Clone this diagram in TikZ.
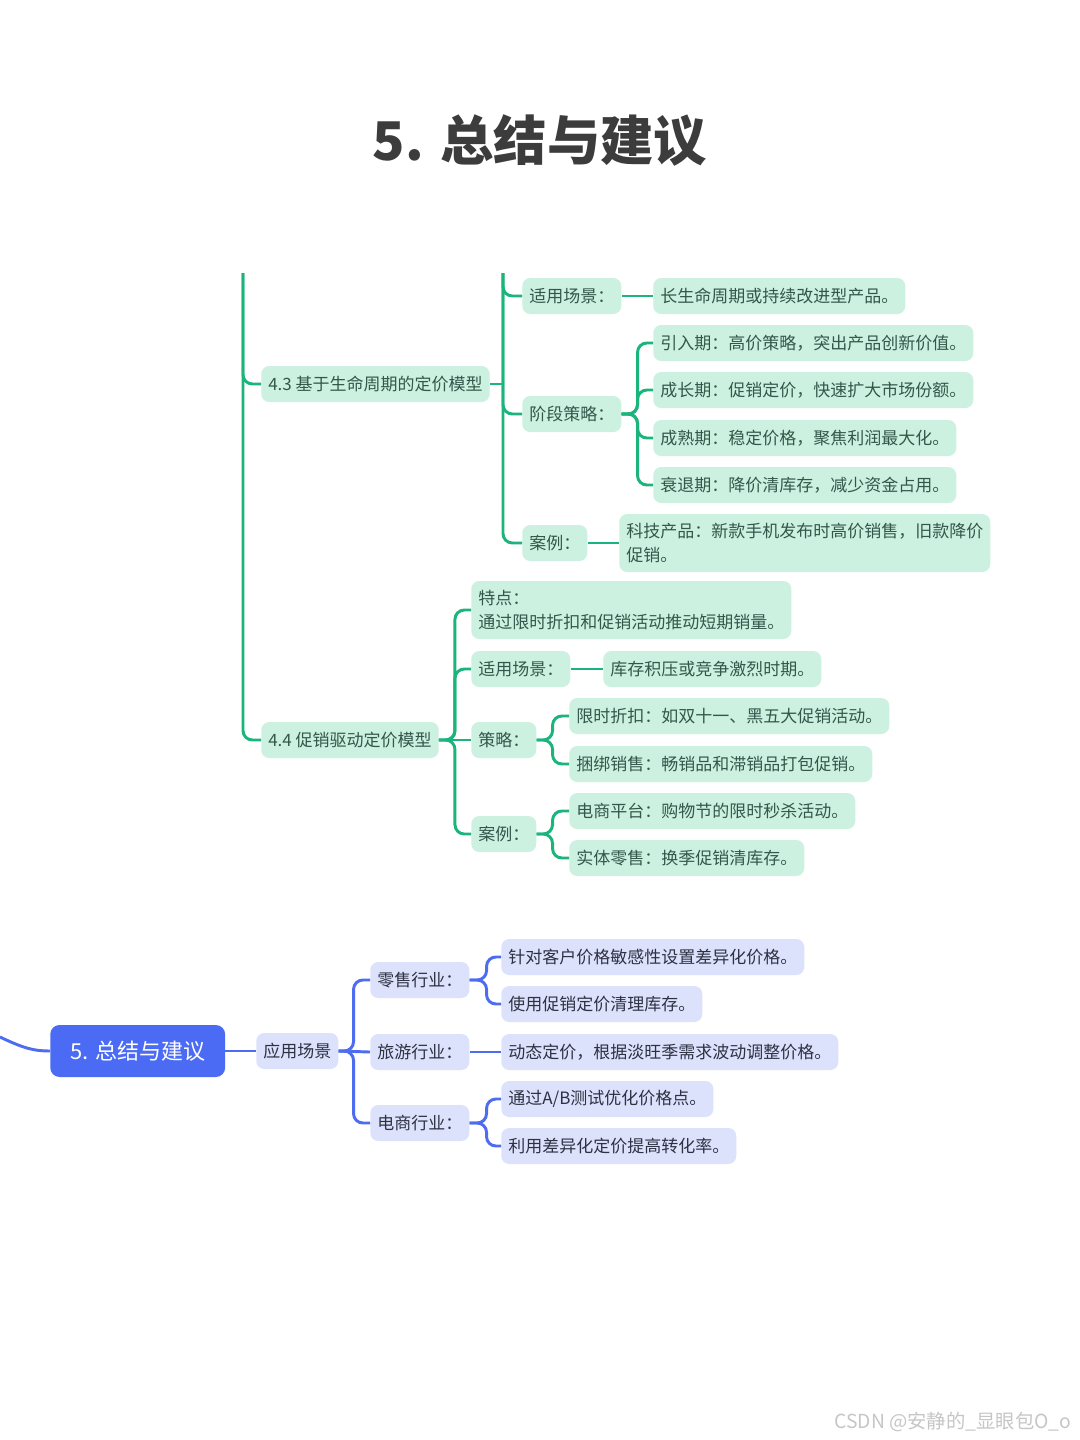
\documentclass[tikz,border=0pt]{standalone}
\usepackage{fontspec}
\setmainfont{Noto Sans CJK SC}
\definecolor{gl}{HTML}{1BB47C}
\definecolor{gf}{HTML}{CCF1E1}
\definecolor{gt}{HTML}{33574A}
\definecolor{bl}{HTML}{4E6CF0}
\definecolor{bf}{HTML}{DCE2FC}
\definecolor{bt}{HTML}{2E3142}
\definecolor{rootc}{HTML}{4B6BF5}
\definecolor{tc}{HTML}{3C3C3C}
\begin{document}
\begin{tikzpicture}[x=0.75pt,y=-0.75pt,
  gline/.style={draw=gl, line width=2.2pt, rounded corners=7pt},
  bline/.style={draw=bl, line width=2.2pt, rounded corners=7pt},
  box/.style={rounded corners=6pt, inner xsep=5.25pt, inner ysep=3pt, minimum height=27pt, anchor=west, align=left, font=\fontsize{12.75}{17.5}\selectfont},
  gbox/.style={box, fill=gf, text=gt},
  bbox/.style={box, fill=bf, text=bt},
  tall/.style={minimum height=43.5pt},
  rootbox/.style={fill=rootc, text=white, rounded corners=7pt, minimum height=39pt, inner xsep=15pt, anchor=west, font=\fontsize{16.5}{20}\selectfont}]
\fill[white] (0,0) rectangle (1080,1440);
\useasboundingbox (0,0) rectangle (1080,1440);

\node[font=\fontsize{40}{48}\selectfont\bfseries, text=tc] (title) at (540,140) {5. 总结与建议};

% green section nodes
\node[gbox] (a43) at (261,384) {4.3 基于生命周期的定价模型};
\node[gbox] (a43s) at (522,296) {适用场景：};
\node[gbox] (a43sv) at (653,296) {长生命周期或持续改进型产品。};
\node[gbox] (a43p) at (522,414) {阶段策略：};
\node[gbox] (p1) at (653,343) {引入期：高价策略，突出产品创新价值。};
\node[gbox] (p2) at (653,390) {成长期：促销定价，快速扩大市场份额。};
\node[gbox] (p3) at (653,438) {成熟期：稳定价格，聚焦利润最大化。};
\node[gbox] (p4) at (653,485) {衰退期：降价清库存，减少资金占用。};
\node[gbox] (a43c) at (522,543) {案例：};
\node[gbox,tall] (a43cv) at (619,543) {科技产品：新款手机发布时高价销售，旧款降价\\促销。};

\node[gbox] (a44) at (261,740) {4.4 促销驱动定价模型};
\node[gbox,tall] (b1) at (471,610) {特点：\\通过限时折扣和促销活动推动短期销量。};
\node[gbox] (b2) at (471,669) {适用场景：};
\node[gbox] (b2v) at (603,669) {库存积压或竞争激烈时期。};
\node[gbox] (b3) at (471,740) {策略：};
\node[gbox] (s1) at (569,716) {限时折扣：如双十一、黑五大促销活动。};
\node[gbox] (s2) at (569,764) {捆绑销售：畅销品和滞销品打包促销。};
\node[gbox] (b4) at (471,834) {案例：};
\node[gbox] (c1) at (569,811) {电商平台：购物节的限时秒杀活动。};
\node[gbox] (c2) at (569,858) {实体零售：换季促销清库存。};

% green connectors
\coordinate (t1) at (243,273);
\coordinate (t2) at (503,273);
\draw[gline] (t1) |- (a44.west);
\draw[gline] (t1) |- (a43.west);
\draw[gline] (a43.east) -- (a43.east -| t2);
\draw[gline] (t2) |- (a43s.west);
\draw[gline] (t2) |- (a43p.west);
\draw[gline] (t2) |- (a43c.west);
\draw[gline] (a43s.east) -- (a43sv.west);
\foreach \n in {p1,p2,p3,p4} \draw[gline] (a43p.east) -- ++(16,0) |- (\n.west);
\draw[gline] (a43c.east) -- (a43cv.west);

\draw[gline] (a44.east) -- (b3.west);
\foreach \n in {b1,b2,b4} \draw[gline] (a44.east) -- ++(16,0) |- (\n.west);
\draw[gline] (b2.east) -- (b2v.west);
\foreach \n in {s1,s2} \draw[gline] (b3.east) -- ++(16,0) |- (\n.west);
\foreach \n in {c1,c2} \draw[gline] (b4.east) -- ++(16,0) |- (\n.west);

% blue section
\node[rootbox] (root) at (50,1051) {5. 总结与建议};
\node[bbox] (app) at (256,1051) {应用场景};
\node[bbox] (r1) at (370,980) {零售行业：};
\node[bbox] (r2) at (370,1052) {旅游行业：};
\node[bbox] (r3) at (370,1123) {电商行业：};
\node[bbox] (r11) at (501,957) {针对客户价格敏感性设置差异化价格。};
\node[bbox] (r12) at (501,1004) {使用促销定价清理库存。};
\node[bbox] (r21) at (501,1052) {动态定价，根据淡旺季需求波动调整价格。};
\node[bbox] (r31) at (501,1099) {通过A/B测试优化价格点。};
\node[bbox] (r32) at (501,1146) {利用差异化定价提高转化率。};

\coordinate (inc) at (0,1037);
\draw[bline] (inc) .. controls (25,1049) and (35,1051) .. (root.west);
\draw[bline] (root.east) -- (app.west);
\draw[bline] (app.east) -- (r2.west);
\foreach \n in {r1,r3} \draw[bline] (app.east) -- ++(15,0) |- (\n.west);
\foreach \n in {r11,r12} \draw[bline] (r1.east) -- ++(17,0) |- (\n.west);
\draw[bline] (r2.east) -- (r21.west);
\foreach \n in {r31,r32} \draw[bline] (r3.east) -- ++(17,0) |- (\n.west);

\node[anchor=east, text=gray!45, font=\fontsize{14.5}{17}\selectfont] (wm) at (1076,1422) {CSDN @安静的\_显眼包O\_o};
\end{tikzpicture}
\end{document}
